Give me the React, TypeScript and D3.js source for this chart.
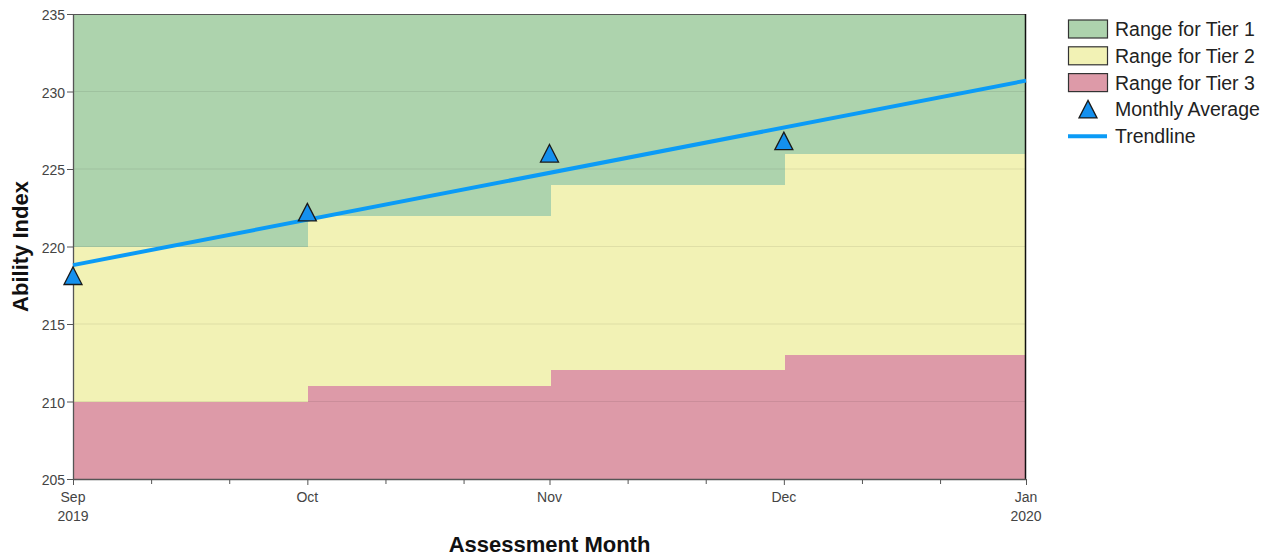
import React from 'react';
import * as d3 from 'd3';

// month starts for the tier ranges / averages
const months = [new Date(2019, 8, 1), new Date(2019, 9, 1), new Date(2019, 10, 1), new Date(2019, 11, 1)];
const endDate = new Date(2020, 0, 1);

const tier3Upper = [210, 211, 212, 213];
const tier2Upper = [220, 222, 224, 226];
const tier1Upper = [235, 235, 235, 235];

const monthlyAverage = [218.1, 222.2, 226.0, 226.8];

// trendline read at its two ends
const trendDates = [new Date(2019, 8, 1), new Date(2020, 0, 1)];
const trendValues = [218.8, 230.7];

const yTicks = [205, 210, 215, 220, 225, 230, 235];
const legendItems = ['Range for Tier 1', 'Range for Tier 2', 'Range for Tier 3', 'Monthly Average', 'Trendline'];

const W = 1276;
const H = 558;
const margin = { left: 73, right: 250, top: 14, bottom: 79 };
const FONT = "Arial, 'Liberation Sans', sans-serif";

const colors = {
  tier1: '#add3ad',
  tier2: '#f2f2b5',
  tier3: '#dd9aa8',
  marker: '#1490ee',
  trend: '#0b9bf6',
};

export default function App() {
  const x = d3.scaleTime().domain([months[0], endDate]).range([margin.left, W - margin.right]);
  const y = d3.scaleLinear().domain([205, 235]).range([H - margin.bottom, margin.top]);

  const bottom = y(205);
  const top = y(235);
  const left = x.range()[0];
  const right = x.range()[1];

  // pixel edges of the monthly steps (steps start one px after the month tick)
  const edges = [...months, endDate].map((d, i) =>
    i === 0 ? left : i === months.length ? right : Math.round(x(d)) + 1
  );

  const minorTicks: Date[] = [];
  months.forEach((m) => {
    minorTicks.push(new Date(m.getFullYear(), m.getMonth(), 11));
    minorTicks.push(new Date(m.getFullYear(), m.getMonth(), 21));
  });
  const majorTicks = [...months, endDate];

  const bands = [
    { lower: tier2Upper, upper: tier1Upper, color: colors.tier1 },
    { lower: tier3Upper, upper: tier2Upper, color: colors.tier2 },
    { lower: months.map(() => 205), upper: tier3Upper, color: colors.tier3 },
  ];

  const tri = (cx: number, cy: number, s = 9) =>
    `M${cx},${cy - s} L${cx + s},${cy + s * 0.95} L${cx - s},${cy + s * 0.95} Z`;

  const trendLine = d3
    .line<number>()
    .x((_, i) => x(trendDates[i]))
    .y((d) => y(d));

  return (
    <svg width={W} height={H} style={{ position: 'absolute', left: 0, top: 0 }} fontFamily={FONT}>
      <rect width={W} height={H} fill="#fff" />
      <g shapeRendering="crispEdges">
        {bands.map((b, bi) =>
          months.map((m, i) => (
            <rect
              key={`${bi}-${i}`}
              x={edges[i]}
              width={edges[i + 1] - edges[i]}
              y={Math.round(y(b.upper[i]))}
              height={Math.round(y(b.lower[i])) - Math.round(y(b.upper[i]))}
              fill={b.color}
            />
          ))
        )}
      </g>
      {yTicks.slice(1, -1).map((t) => (
        <line key={t} x1={left} x2={right} y1={y(t)} y2={y(t)} stroke="#000" strokeOpacity={0.08} />
      ))}

      {/* frame */}
      <line x1={left} x2={right} y1={top + 0.5} y2={top + 0.5} stroke="#555" />
      <line x1={right - 0.5} x2={right - 0.5} y1={top} y2={bottom} stroke="#111" strokeWidth={1.5} />
      <line x1={left + 0.5} x2={left + 0.5} y1={top} y2={bottom + 0.5} stroke="#555" strokeWidth={1.3} />
      <line x1={left} x2={right} y1={bottom + 0.5} y2={bottom + 0.5} stroke="#555" strokeWidth={1.3} />

      {/* y axis */}
      {yTicks.map((t) => (
        <g key={t}>
          <line x1={left - 6} x2={left} y1={y(t) + 0.5} y2={y(t) + 0.5} stroke="#555" />
          <text x={left - 8} y={y(t) + 6} textAnchor="end" fontSize={14} fill="#444">
            {t}
          </text>
        </g>
      ))}

      {/* x axis */}
      {majorTicks.map((d, i) => (
        <g key={i}>
          <line x1={x(d) + 0.5} x2={x(d) + 0.5} y1={bottom} y2={bottom + 6} stroke="#555" />
          <text x={x(d)} y={bottom + 23} textAnchor="middle" fontSize={14} fill="#444">
            {d3.timeFormat('%b')(d)}
          </text>
          {d.getMonth() === 0 || i === 0 ? (
            <text x={x(d)} y={bottom + 42} textAnchor="middle" fontSize={14} fill="#444">
              {d3.timeFormat('%Y')(d)}
            </text>
          ) : null}
        </g>
      ))}
      {minorTicks.map((d, i) => (
        <line key={i} x1={x(d) + 0.5} x2={x(d) + 0.5} y1={bottom} y2={bottom + 5} stroke="#555" />
      ))}

      {/* trendline + monthly averages */}
      <path d={trendLine(trendValues) || ''} fill="none" stroke={colors.trend} strokeWidth={4} />
      {months.map((m, i) => (
        <path key={i} d={tri(x(m), y(monthlyAverage[i]))} fill={colors.marker} stroke="#1a1a1a" strokeWidth={1.3} />
      ))}

      {/* axis titles */}
      <text
        transform={`translate(${28},${(top + bottom) / 2}) rotate(-90)`}
        textAnchor="middle"
        fontSize={22}
        fontWeight="bold"
        fill="#111"
      >
        Ability Index
      </text>
      <text x={(left + right) / 2} y={552} textAnchor="middle" fontSize={22} fontWeight="bold" fill="#111">
        Assessment Month
      </text>

      {/* legend */}
      {legendItems.map((label, i) => {
        const cy = 29 + i * 26.8;
        return (
          <g key={label}>
            {i < 3 ? (
              <rect
                x={1068.5}
                y={cy - 9}
                width={39}
                height={18}
                fill={[colors.tier1, colors.tier2, colors.tier3][i]}
                stroke="#333"
                strokeWidth={1.2}
              />
            ) : i === 3 ? (
              <path d={tri(1088, cy)} fill={colors.marker} stroke="#1a1a1a" strokeWidth={1.3} />
            ) : (
              <line x1={1068} x2={1107} y1={cy} y2={cy} stroke={colors.trend} strokeWidth={4} />
            )}
            <text x={1115} y={cy + 7} fontSize={19.5} fill="#222">
              {label}
            </text>
          </g>
        );
      })}
    </svg>
  );
}
